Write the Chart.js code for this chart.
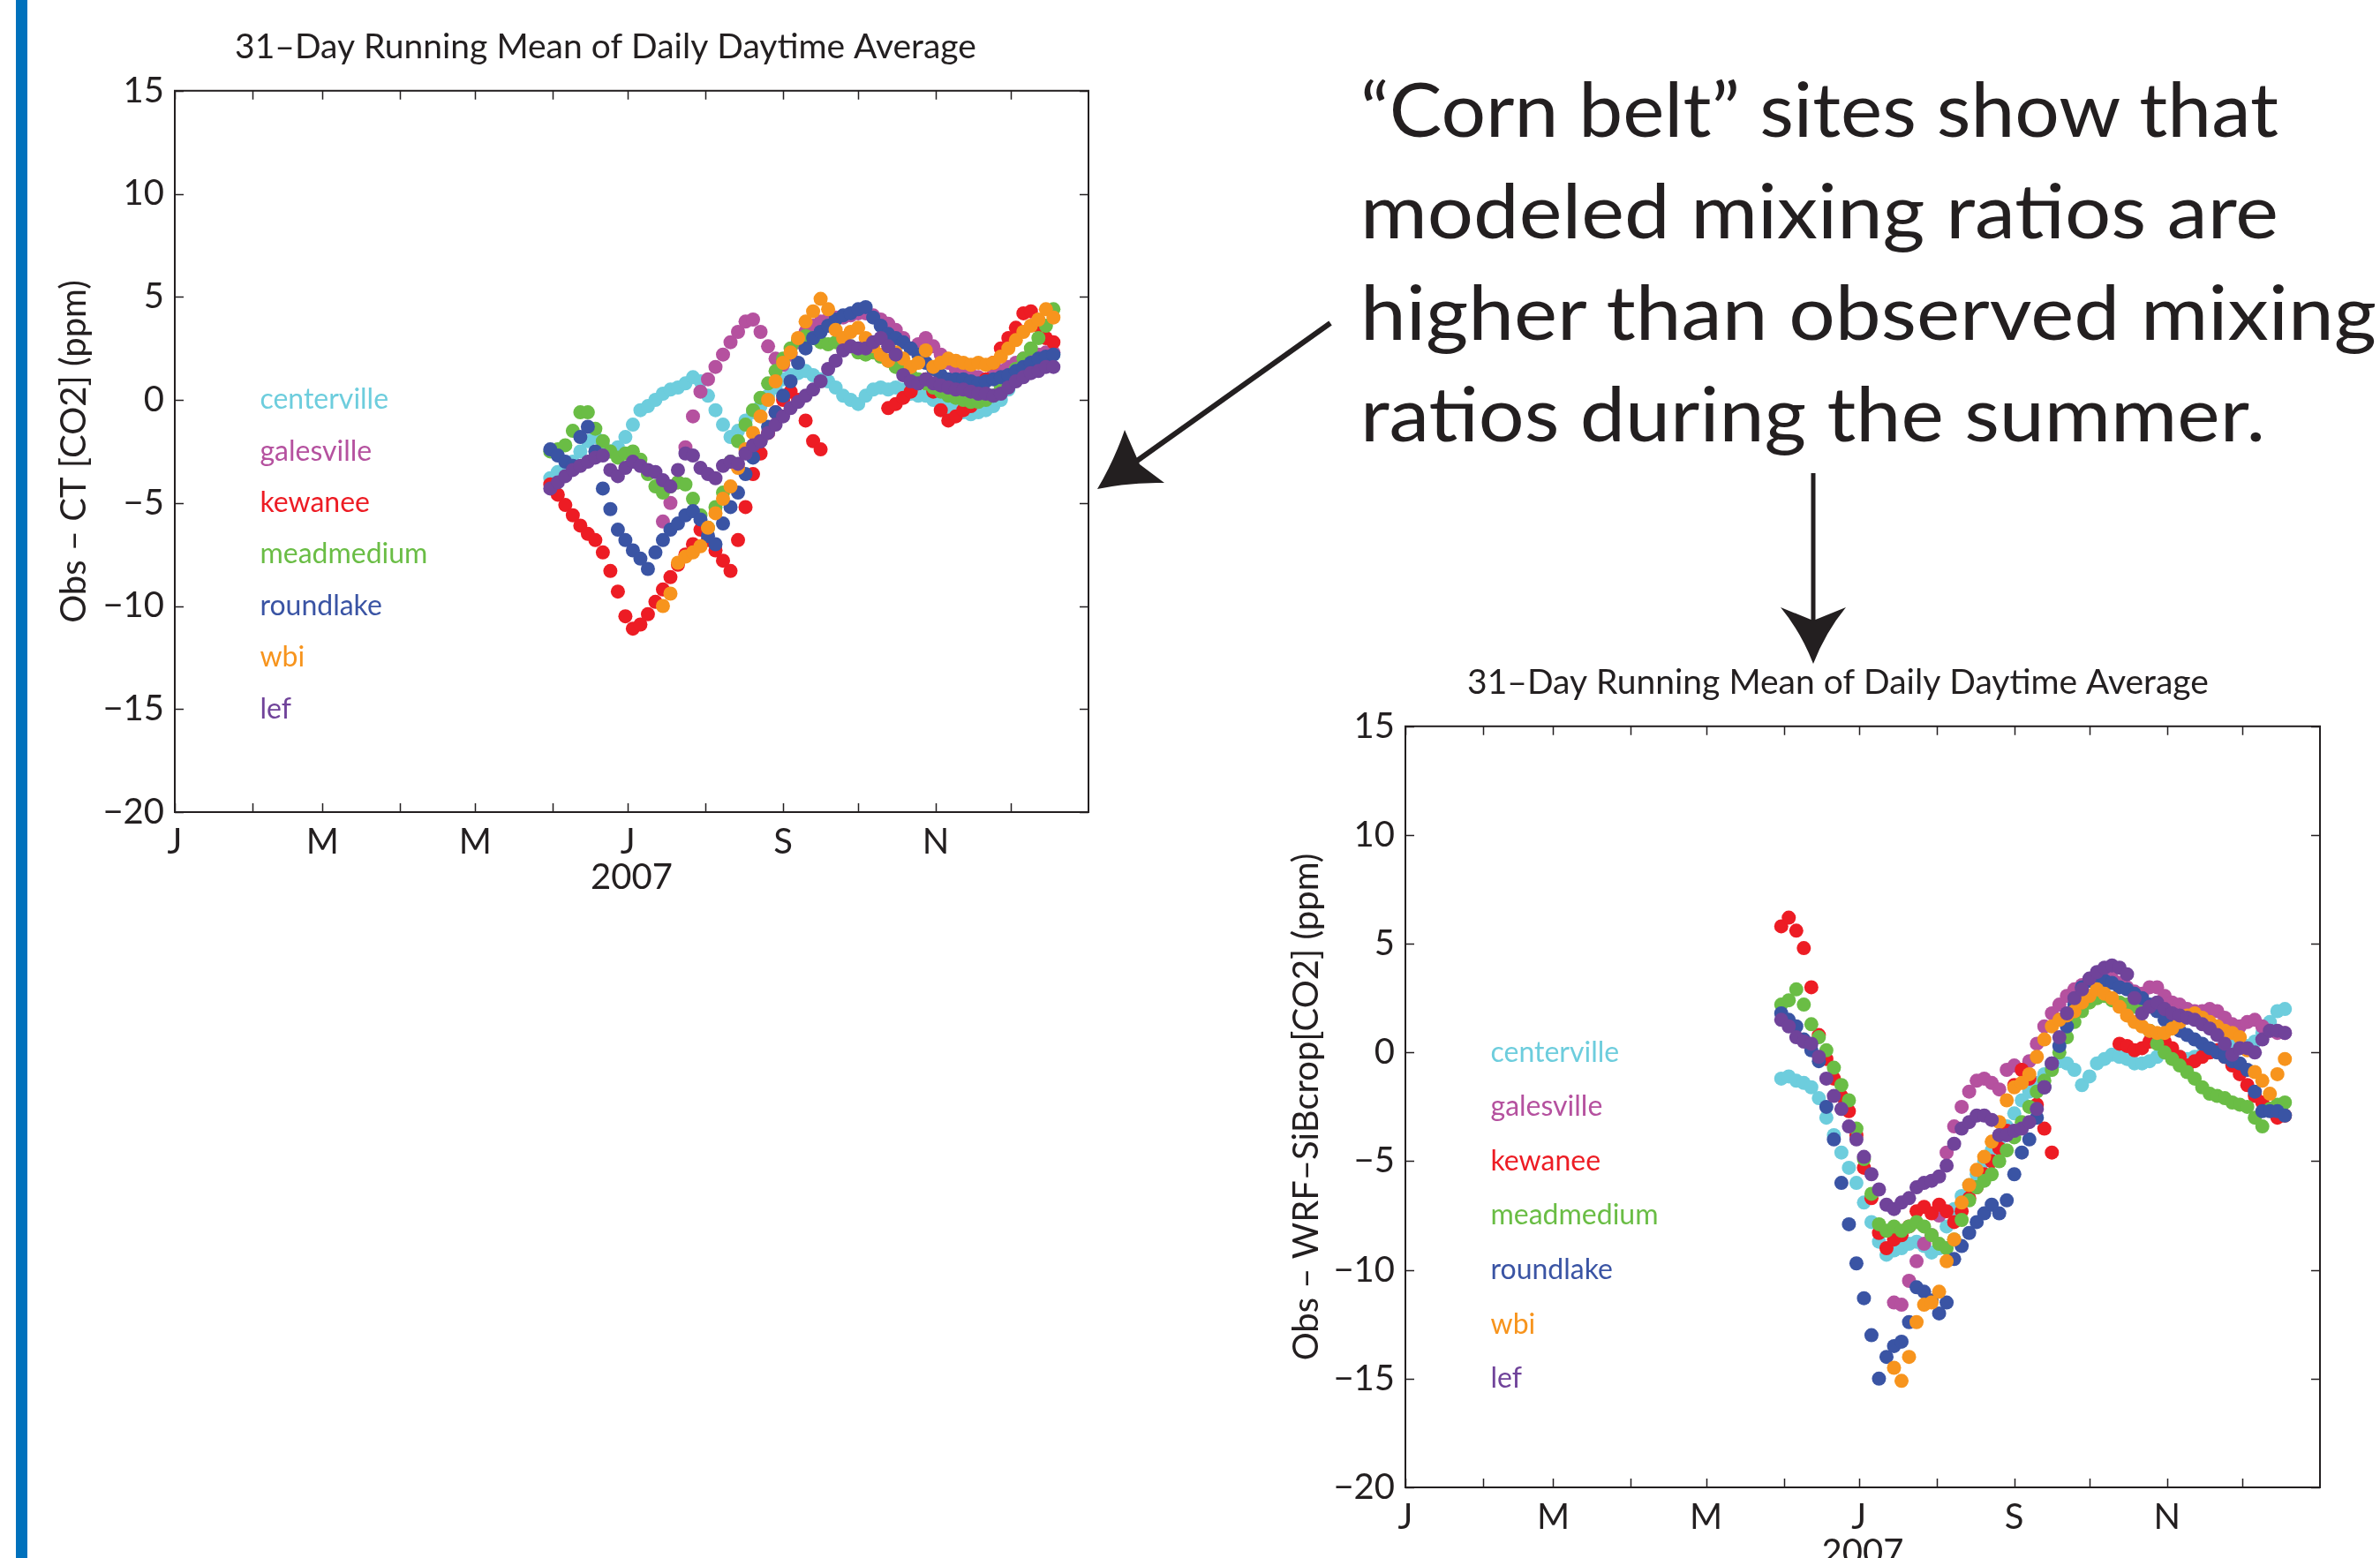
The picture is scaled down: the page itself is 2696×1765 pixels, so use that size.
<!DOCTYPE html>
<html>
<head>
<meta charset="utf-8">
<script src="https://cdn.jsdelivr.net/npm/chart.js@4.4.1/dist/chart.umd.min.js"></script>
<style>
  html, body { margin: 0; padding: 0; background: #fff; }
  body { width: 2696px; height: 1765px; position: relative; overflow: hidden; }
  .bar { position: absolute; left: 18px; top: 0; width: 13px; height: 1765px; background: #0071bc; }
  #ctWrap { position: absolute; left: 60px; top: 0; }
  #wrfWrap { position: absolute; left: 1454px; top: 720px; }
  svg.note { position: absolute; left: 0; top: 0; }
</style>
</head>
<body>
<div class="bar"></div>
<div id="ctWrap"><canvas id="ctChart" width="1272" height="1020"></canvas></div>
<div id="wrfWrap"><canvas id="wrfChart" width="1276" height="1065"></canvas></div>

<svg class="note" width="2696" height="1765" viewBox="0 0 2696 1765">
  <g fill="#231f20" font-family="Lato, 'Open Sans', sans-serif" font-size="86">
    <text x="1541" y="155" textLength="1040" lengthAdjust="spacingAndGlyphs">“Corn belt” sites show that</text>
    <text x="1541" y="270" textLength="1040" lengthAdjust="spacingAndGlyphs">modeled mixing ratios are</text>
    <text x="1541" y="385" textLength="1151" lengthAdjust="spacingAndGlyphs">higher than observed mixing</text>
    <text x="1541" y="500" textLength="1025" lengthAdjust="spacingAndGlyphs">ratios during the summer.</text>
  </g>
  <line x1="1507" y1="366" x2="1288" y2="522" stroke="#231f20" stroke-width="6"/>
  <path d="M1243 554 Q1262 522 1274 487 L1291 526 L1319 547 Q1280 546 1243 554 Z" fill="#231f20"/>
  <line x1="2054" y1="536" x2="2054" y2="705" stroke="#231f20" stroke-width="5"/>
  <path d="M2054 752 Q2040 716 2017 688 L2054 703 L2091 688 Q2068 716 2054 752 Z" fill="#231f20"/>
</svg>

<script>
// day of year of each plotted point (every third day)
const DAYS = [150,153,156,159,162,165,168,171,174,177,180,183,186,189,192,195,198,201,204,207,
  210,213,216,219,222,225,228,231,234,237,240,243,246,249,252,255,258,261,264,267,
  270,273,276,279,282,285,288,291,294,297,300,303,306,309,312,315,318,321,324,327,
  330,333,336,339,342,345,348,351];

const SITES = ['centerville', 'galesville', 'kewanee', 'meadmedium', 'roundlake', 'wbi', 'lef'];
const SITE_COLORS = ['#6dcddd', '#b5519f', '#ed1c24', '#6abd45', '#3a54a4', '#f7941d', '#70439a'];

const MONTH_DAYS = [0, 31, 59, 90, 120, 151, 181, 212, 243, 273, 304, 334];
const MONTH_LABELS = ['J', '', 'M', '', 'M', '', 'J', '', 'S', '', 'N', ''];

// Obs - CT [CO2] (ppm)
const ctCenterville = [-3.8,-3.5,-3.3,-3.0,-2.5,-2.0,-1.8,-2.2,-2.5,-2.3, -1.8,-1.2,-0.5,-0.3,0.0,0.3,0.5,0.6,0.8,1.1,
  0.9,0.2,-0.5,-1.2,-1.8,-1.5,-1.0,-0.6,-0.3,0.2, 0.6,1.0,1.2,1.3,1.4,1.2,1.0,0.9,0.6,0.2,
  0.0,-0.2,0.2,0.5,0.6,0.5,0.6,0.5,0.3,0.2, 0.2,0.0,-0.2,-0.4,-0.5,-0.6,-0.7,-0.6,-0.5,-0.3,
  0.0,0.5,1.0,1.4,1.7,1.9,2.1,2.2];
const ctGalesville = [null,null,null,null,null,null,null,null,null,null,null,null,null,null,null,
  -5.9,-5.0,-4.0,-2.3,-0.8,0.4,1.0,1.6,2.2,2.8, 3.3,3.8,3.9,3.3,2.6,2.0,1.7,2.2,2.8,3.3,
  3.6,3.8,3.9,4.0,4.0,4.1,4.2,4.2,4.1,3.9, 3.7,3.4,3.0,2.5,2.7,3.0,2.6,2.2,1.8,1.5,
  1.3,1.2,1.1,1.0,1.2,1.4,1.6,1.8,2.0,2.1, 2.2,2.3,2.3];
const ctKewanee = [-4.1,-4.6,-5.1,-5.6,-6.1,-6.5,-6.8,-7.4,-8.3,-9.3, -10.5,-11.1,-10.9,-10.4,-9.8,-9.2,-8.6,-8.0,-7.5,-7.0,
  -6.3,-6.8,-7.3,-7.8,-8.3,-6.8,-5.2,-3.6,-2.6,-1.6, -0.6,0.0,0.4,0.0,-1.0,-2.0,-2.4,null,null,null,
  null,null,null,null,null,-0.4,-0.2,0.1,0.4,0.8, 1.0,0.4,-0.5,-1.0,-0.8,-0.5,-0.3,0.2,1.0,1.8,
  2.5,3.0,3.5,4.2,4.3,3.6,3.0,2.8];
const ctMeadmedium = [-2.5,-2.4,-2.2,-1.5,-0.6,-0.6,-1.4,-2.0,-2.5,-2.8, -2.6,-2.5,-2.9,-3.6,-4.2,-4.5,-4.2,-4.0,-4.1,-4.8,
  -5.6,-6.2,-5.2,-4.5,-3.0,-2.0,-1.2,-0.5,0.1,0.8, 1.4,2.0,2.5,2.9,3.1,3.0,2.8,2.7,2.8,2.9,
  2.6,2.3,2.2,2.3,2.1,1.9,1.6,1.4,1.2,1.0, 0.8,0.6,0.4,0.2,0.1,0.0,-0.1,-0.1,0.0,0.2,
  0.6,1.0,1.5,2.0,2.5,3.0,3.6,4.4];
const ctRoundlake = [-2.4,-2.7,-3.0,-3.2,-1.8,-1.3,-2.5,-4.3,-5.3,-6.3, -6.8,-7.3,-7.7,-8.2,-7.4,-6.8,-6.3,-6.0,-5.6,-5.4,
  -5.8,-6.6,-7.0,-6.0,-5.2,-4.5,-3.6,-2.8,-2.0,-1.3, -0.6,0.2,0.9,1.8,2.5,3.0,3.3,3.6,3.9,4.1,
  4.2,4.4,4.5,4.0,3.6,3.2,3.0,2.8,2.5,2.2, 1.8,1.5,1.2,1.0,1.0,1.0,0.9,0.8,0.9,1.0,
  1.1,1.2,1.4,1.6,1.8,2.0,2.1,2.2];
const ctWbi = [null,null,null,null,null,null,null,null,null,null,null,null,null,null,null,
  -10.0,-9.4,-7.9,-7.6,-7.4,-7.1,-6.2,-5.5,-4.8,-4.2, -3.3,-2.4,-1.6,-0.8,0.0,0.9,1.8,2.3,3.0,3.8,
  4.3,4.9,4.4,3.4,3.0,3.3,3.5,3.0,2.6,2.2, 1.9,2.3,2.0,1.6,1.8,2.4,1.6,1.8,2.0,1.9,
  1.8,1.7,1.8,1.7,1.8,2.1,2.5,2.9,3.3,3.6, 3.9,4.4,4.0];
const ctLef = [-4.3,-4.0,-3.7,-3.4,-3.2,-3.0,-2.8,-2.7,-3.4,-3.7, -3.3,-3.0,-3.2,-3.4,-3.5,-3.9,-4.2,-3.4,-2.6,-2.7,
  -3.3,-3.6,-3.8,-3.2,-3.0,-3.1,-2.6,-2.2,-2.0,-1.6, -1.2,-0.8,-0.4,-0.1,0.2,0.5,0.9,1.5,1.9,2.4,
  2.6,2.5,2.5,2.8,3.0,2.6,2.2,1.2,0.9,0.8, 1.0,0.8,0.7,0.6,0.5,0.5,0.4,0.3,0.3,0.2,
  0.3,0.6,0.9,1.1,1.3,1.4,1.6,1.6];

// Obs - WRF-SiBcrop [CO2] (ppm)
const wrfCenterville = [-1.2,-1.1,-1.3,-1.4,-1.6,-2.1,-3.0,-3.8,-4.6,-5.3, -6.0,-6.9,-7.8,-8.7,-9.3,-9.1,-9.0,-8.8,-8.7,-8.9,
  -9.2,-9.0,-8.0,-7.2,-6.6,-6.1,-5.6,-5.0,-4.5,-4.0, -3.4,-2.8,-2.2,-1.8,-1.4,-1.0,-0.6,-0.4,-0.5,-0.8,
  -1.5,-1.1,-0.5,-0.3,-0.1,-0.2,-0.3,-0.5,-0.5,-0.4, -0.2,0.0,-0.2,-0.2,-0.3,-0.2,-0.1,0.0,0.1,0.2,
  0.3,0.2,0.3,0.5,0.9,1.4,1.9,2.0];
const wrfGalesville = [null,null,null,null,null,null,null,null,null,null,null,null,null,null,null,
  -11.5,-11.6,-10.5,-9.6,-8.8,-8.4,-7.5,-4.6,-3.4,-2.5,-1.8,-1.3,-1.2,-1.4,-1.7,
  -0.8,-0.6,-0.8,-0.4,0.4,1.2,1.8,2.2,2.6,2.9,3.1,3.3,3.5,3.6,3.4,
  3.2,3.0,2.8,2.7,3.0,3.0,2.6,2.3,2.2,2.0,1.9,1.9,2.0,1.9,1.6,
  1.3,1.2,1.4,1.5,1.2,1.0,0.9,0.9];
const wrfKewanee = [5.8,6.2,5.6,4.8,3.0,0.8,-0.3,-1.2,-2.0,-2.7, -3.8,-5.3,-6.7,-8.3,-9.0,-8.6,-8.4,-8.0,-7.3,-7.1,
  -7.4,-7.0,-7.3,-7.8,-7.3,-6.7,-6.2,-5.6,-5.0,-4.4, -3.6,-1.5,-0.8,-1.2,-2.4,-3.5,-4.6,null,null,null,
  null,null,null,null,null,0.4,0.3,0.1,0.2,0.5, 0.8,0.5,0.2,-0.2,-0.6,-0.4,-0.2,0.0,0.1,-0.2,
  -0.6,-1.0,-1.5,-2.0,-2.3,-2.6,-3.0,-2.9];
const wrfMeadmedium = [2.2,2.4,2.9,2.2,1.3,0.7,0.1,-0.7,-1.5,-2.2, -3.5,-4.9,-6.5,-7.9,-8.2,-8.0,-8.2,-8.0,-7.8,-8.0,
  -8.4,-8.8,-9.0,-8.6,-7.7,-6.8,-6.2,-5.9,-5.6,-5.0, -4.5,-3.9,-3.2,-2.5,-1.8,-1.3,-0.8,0.0,0.7,1.4,
  1.9,2.3,2.5,2.6,2.4,2.3,2.2,2.1,2.0,1.0, 0.4,0.0,-0.3,-0.6,-0.9,-1.2,-1.6,-1.9,-2.0,-2.1,
  -2.3,-2.4,-2.5,-3.0,-3.4,-2.6,-2.4,-2.3];
const wrfRoundlake = [1.8,1.5,1.2,0.6,0.1,-0.4,-2.5,-4.0,-6.0,-7.9, -9.7,-11.3,-13.0,-15.0,-14.0,-13.5,-13.3,-12.4,-10.8,-11.0,
  -11.4,-12.0,-11.5,-9.5,-8.9,-8.3,-7.8,-7.4,-7.0,-7.4, -6.8,-5.6,-4.6,-4.0,-3.0,-1.6,-0.5,0.3,1.2,2.2,
  3.0,3.3,3.4,3.3,3.2,3.0,2.9,2.7,2.5,2.2, 1.9,1.5,1.2,1.0,0.8,0.6,0.4,0.2,0.0,-0.2,
  -0.4,-0.5,-0.8,-1.8,-2.7,-2.7,-2.7,-2.9];
const wrfWbi = [null,null,null,null,null,null,null,null,null,null,null,null,null,null,null,
  -14.5,-15.1,-14.0,-12.4,-11.6,-11.5,-11.0,-9.6,-8.6,-6.9, -6.1,-5.4,-4.8,-4.1,-3.2,-2.2,-1.6,-1.4,-1.0,-0.2,
  0.6,1.2,1.5,1.7,1.9,2.3,2.6,2.9,2.7,2.5, 2.1,1.7,1.4,1.2,1.0,0.9,0.9,1.1,1.4,1.7,
  1.8,1.6,1.4,1.2,1.0,0.9,0.7,0.1,-0.9,-1.3, -1.9,-1.0,-0.3];
const wrfLef = [1.5,1.2,0.7,0.5,0.4,-0.2,-1.2,-2.0,-2.6,-3.4, -4.0,-4.8,-5.6,-6.3,-7.0,-7.2,-6.9,-6.7,-6.2,-6.0,
  -5.9,-5.7,-5.2,-4.2,-3.5,-3.2,-2.9,-2.9,-3.1,-3.8, -3.8,-3.6,-3.5,-3.2,-2.6,-1.6,-0.5,0.7,1.8,2.5,
  2.9,3.4,3.7,3.9,4.0,3.9,3.6,2.5,1.8,2.1, 2.3,2.0,1.8,1.7,1.6,1.5,1.3,1.1,0.8,0.4,
  -0.1,0.2,0.2,0.0,0.6,1.0,1.0,0.9];

const INK = '#231f20';
const TITLE = '31–Day Running Mean of Daily Daytime Average';

Chart.defaults.font.family = "Lato, 'Open Sans', sans-serif";
Chart.defaults.color = INK;

// box outline, inward ticks on all four sides, site names inside the axes
const matlabAxes = {
  id: 'matlabAxes',
  afterDraw(chart) {
    const {ctx, chartArea: a, scales: {x, y}} = chart;
    ctx.save();
    ctx.strokeStyle = INK;
    ctx.lineWidth = 1.5;
    ctx.beginPath();
    x.ticks.forEach(t => {
      const px = Math.round(x.getPixelForValue(t.value)) + 0.5;
      ctx.moveTo(px, a.bottom); ctx.lineTo(px, a.bottom - 10);
      ctx.moveTo(px, a.top); ctx.lineTo(px, a.top + 10);
    });
    y.ticks.forEach(t => {
      const py = Math.round(y.getPixelForValue(t.value)) + 0.5;
      ctx.moveTo(a.left, py); ctx.lineTo(a.left + 10, py);
      ctx.moveTo(a.right, py); ctx.lineTo(a.right - 10, py);
    });
    ctx.stroke();
    ctx.lineWidth = 2;
    ctx.strokeRect(a.left, a.top, a.right - a.left, a.bottom - a.top);

    ctx.font = "32px Lato, 'Open Sans', sans-serif";
    ctx.textAlign = 'left';
    ctx.textBaseline = 'middle';
    chart.data.datasets.forEach((ds, i) => {
      ctx.fillStyle = ds.backgroundColor;
      ctx.fillText(ds.label, x.getPixelForValue(34), y.getPixelForValue(-2.5 * i));
    });
    ctx.restore();
  }
};

function drawPanel(canvasId, yTitle, seriesList, rightBox, yTitlePad) {
  const datasets = seriesList.map((vals, i) => ({
    label: SITES[i],
    data: DAYS.map((d, k) => ({x: d, y: vals[k]})).filter(p => p.y !== null),
    backgroundColor: SITE_COLORS[i],
    pointRadius: 8,
    pointHoverRadius: 8,
    pointBorderWidth: 0,
    order: SITES.length - 1 - i
  }));

  return new Chart(document.getElementById(canvasId).getContext('2d'), {
    type: 'scatter',
    data: {datasets},
    options: {
      responsive: false,
      animation: false,
      events: [],
      layout: {padding: {left: 0, right: 20, top: 0, bottom: 0}},
      plugins: {
        legend: {display: false},
        tooltip: {enabled: false},
        title: {
          display: true,
          text: TITLE,
          color: INK,
          font: {size: 39, weight: 'normal'},
          padding: {top: 30, bottom: 26}
        }
      },
      scales: {
        x: {
          type: 'linear',
          min: 0,
          max: 365,
          afterBuildTicks: s => { s.ticks = MONTH_DAYS.map(v => ({value: v})); },
          afterFit: s => { s.height = 100; },
          grid: {display: false, drawTicks: false},
          border: {display: false},
          ticks: {
            autoSkip: false,
            maxRotation: 0,
            padding: 10,
            color: INK,
            font: {size: 40},
            callback: (v, i) => MONTH_LABELS[i]
          },
          title: {display: true, text: '2007', color: INK, font: {size: 40}, padding: {top: 0, bottom: 2}}
        },
        y: {
          type: 'linear',
          position: 'left',
          min: -20,
          max: 15,
          afterFit: s => { s.width = 138; },
          grid: {display: false, drawTicks: false},
          border: {display: false},
          ticks: {
            stepSize: 5,
            padding: 12,
            color: INK,
            font: {size: 40},
            callback: v => (v < 0 ? '\u2212' + Math.abs(v) : String(v))
          },
          title: {display: true, text: yTitle, color: INK, font: {size: 40}, padding: {top: yTitlePad, bottom: 0}}
        },
        yRight: {
          type: 'linear',
          position: 'right',
          afterFit: s => { s.width = rightBox; },
          grid: {display: false, drawTicks: false},
          border: {display: false},
          ticks: {display: false}
        }
      }
    },
    plugins: [matlabAxes]
  });
}

drawPanel('ctChart', 'Obs – CT [CO2] (ppm)',
  [ctCenterville, ctGalesville, ctKewanee, ctMeadmedium, ctRoundlake, ctWbi, ctLef], 79, 0);
drawPanel('wrfChart', 'Obs – WRF–SiBcrop[CO2] (ppm)',
  [wrfCenterville, wrfGalesville, wrfKewanee, wrfMeadmedium, wrfRoundlake, wrfWbi, wrfLef], 82, 2);
</script>
</body>
</html>
